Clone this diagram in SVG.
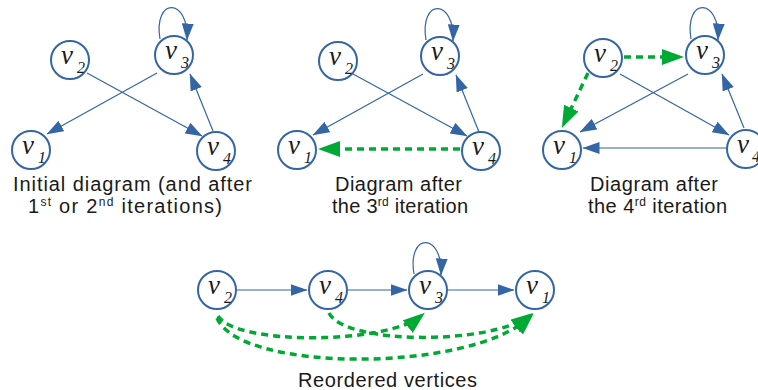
<svg xmlns="http://www.w3.org/2000/svg" width="758" height="390" viewBox="0 0 758 390">
<style>
.n{fill:#fff;stroke:#3465a4;stroke-width:2}
.lv{font-family:"Liberation Serif",serif;font-style:italic;font-size:27px;fill:#1a1a1a}
.sub{font-size:16px}
.e{fill:none;stroke:#3465a4;stroke-width:1.2}
.b{marker-end:url(#ab)}
.g{fill:none;stroke:#00a933;stroke-width:3.5;stroke-dasharray:7 5;marker-end:url(#ag)}
.cap{font-family:"Liberation Sans",Arial,sans-serif;font-size:20px;fill:#1a1a1a}
.sup{font-size:12px}
</style>
<defs>
<marker id="ab" markerUnits="userSpaceOnUse" markerWidth="18" markerHeight="12" refX="16.5" refY="6" orient="auto"><path d="M0,0 L17,6 L0,12 z" fill="#3465a4"/></marker>
<marker id="ag" markerUnits="userSpaceOnUse" markerWidth="23" markerHeight="16" refX="17" refY="8" orient="auto"><path d="M0,0 L22,8 L0,16 z" fill="#00a933"/></marker>
</defs>
<g id="connectors">
<path class="e b" d="M87,73 L202,136"/>
<path class="e b" d="M157,73 L47,134"/>
<path class="e b" d="M213,131 L190,74"/>
<path class="e b" d="M160,39 C153,-3 189,-3 187,40"/>
<path class="e b" d="M353,74 L467,136"/>
<path class="e b" d="M423,74 L313,135"/>
<path class="e b" d="M479,132 L456,75"/>
<path class="e b" d="M426,40 C419,-2 455,-2 453,41"/>
<path class="g" d="M460,149 L323,149"/>
<path class="e b" d="M620,74 L729,135"/>
<path class="e b" d="M688,74 L580,132"/>
<path class="e b" d="M744,128 L722,74"/>
<path class="e b" d="M727,148 L583,148"/>
<path class="e b" d="M691,39 C684,-3 720,-3 718,40"/>
<path class="g" d="M624,57 L679,57"/>
<path class="g" d="M588,73 L564,123.5"/>
<path class="e b" d="M237,290 L307,290"/>
<path class="e b" d="M348,290 L407,290"/>
<path class="e b" d="M448,290 L514,290"/>
<path class="e b" d="M414,274 C407,232 443,232 441,275"/>
<path class="g" d="M329,313 C345,345 490,345 529,316"/>
<path class="g" d="M218,316 C235,345 385,345 421,316"/>
<path class="g" d="M217,318 C240,373 470,373 530,317"/>
</g>
<g id="d1-v1"><circle class="n" cx="31" cy="150" r="19"/><text class="lv"><tspan x="22" y="154">v</tspan><tspan class="sub" x="38" y="163">1</tspan></text></g>
<g id="d1-v2"><circle class="n" cx="70" cy="60" r="19"/><text class="lv"><tspan x="61" y="64">v</tspan><tspan class="sub" x="77" y="73">2</tspan></text></g>
<g id="d1-v3"><circle class="n" cx="174" cy="55" r="19"/><text class="lv"><tspan x="165" y="59">v</tspan><tspan class="sub" x="181" y="68">3</tspan></text></g>
<g id="d1-v4"><circle class="n" cx="216" cy="151" r="19"/><text class="lv"><tspan x="207" y="155">v</tspan><tspan class="sub" x="223" y="164">4</tspan></text></g>
<g id="d2-v1"><circle class="n" cx="297" cy="150" r="19"/><text class="lv"><tspan x="288" y="154">v</tspan><tspan class="sub" x="304" y="163">1</tspan></text></g>
<g id="d2-v2"><circle class="n" cx="338" cy="61" r="19"/><text class="lv"><tspan x="329" y="65">v</tspan><tspan class="sub" x="345" y="74">2</tspan></text></g>
<g id="d2-v3"><circle class="n" cx="440" cy="56" r="19"/><text class="lv"><tspan x="431" y="60">v</tspan><tspan class="sub" x="447" y="69">3</tspan></text></g>
<g id="d2-v4"><circle class="n" cx="481" cy="151" r="19"/><text class="lv"><tspan x="472" y="155">v</tspan><tspan class="sub" x="488" y="164">4</tspan></text></g>
<g id="d3-v1"><circle class="n" cx="562" cy="150" r="19"/><text class="lv"><tspan x="553" y="154">v</tspan><tspan class="sub" x="569" y="163">1</tspan></text></g>
<g id="d3-v2"><circle class="n" cx="603" cy="58" r="19"/><text class="lv"><tspan x="594" y="62">v</tspan><tspan class="sub" x="610" y="71">2</tspan></text></g>
<g id="d3-v3"><circle class="n" cx="705" cy="55" r="19"/><text class="lv"><tspan x="696" y="59">v</tspan><tspan class="sub" x="712" y="68">3</tspan></text></g>
<g id="d3-v4"><circle class="n" cx="746" cy="149" r="19"/><text class="lv"><tspan x="737" y="153">v</tspan><tspan class="sub" x="752" y="162">4</tspan></text></g>
<g id="r-v2"><circle class="n" cx="217" cy="290" r="19"/><text class="lv"><tspan x="208" y="294">v</tspan><tspan class="sub" x="224" y="303">2</tspan></text></g>
<g id="r-v4"><circle class="n" cx="328" cy="290" r="19"/><text class="lv"><tspan x="319" y="294">v</tspan><tspan class="sub" x="335" y="303">4</tspan></text></g>
<g id="r-v3"><circle class="n" cx="428" cy="290" r="19"/><text class="lv"><tspan x="419" y="294">v</tspan><tspan class="sub" x="435" y="303">3</tspan></text></g>
<g id="r-v1"><circle class="n" cx="535" cy="290" r="19"/><text class="lv"><tspan x="526" y="294">v</tspan><tspan class="sub" x="542" y="303">1</tspan></text></g>
<g id="captions">
<text class="cap" x="13" y="191" textLength="239" lengthAdjust="spacing">Initial diagram (and after</text>
<text class="cap" x="28" y="213" textLength="194" lengthAdjust="spacing">1<tspan class="sup" dy="-7">st</tspan><tspan dy="7"> or 2</tspan><tspan class="sup" dy="-7">nd</tspan><tspan dy="7"> iterations)</tspan></text>
<text class="cap" x="335" y="191" textLength="127" lengthAdjust="spacing">Diagram after</text>
<text class="cap" x="332" y="213" textLength="136" lengthAdjust="spacing">the 3<tspan class="sup" dy="-7">rd</tspan><tspan dy="7"> iteration</tspan></text>
<text class="cap" x="590" y="191" textLength="128" lengthAdjust="spacing">Diagram after</text>
<text class="cap" x="588" y="213" textLength="139" lengthAdjust="spacing">the 4<tspan class="sup" dy="-7">rd</tspan><tspan dy="7"> iteration</tspan></text>
<text class="cap" x="298" y="387" textLength="179" lengthAdjust="spacing">Reordered vertices</text>
</g>
</svg>
